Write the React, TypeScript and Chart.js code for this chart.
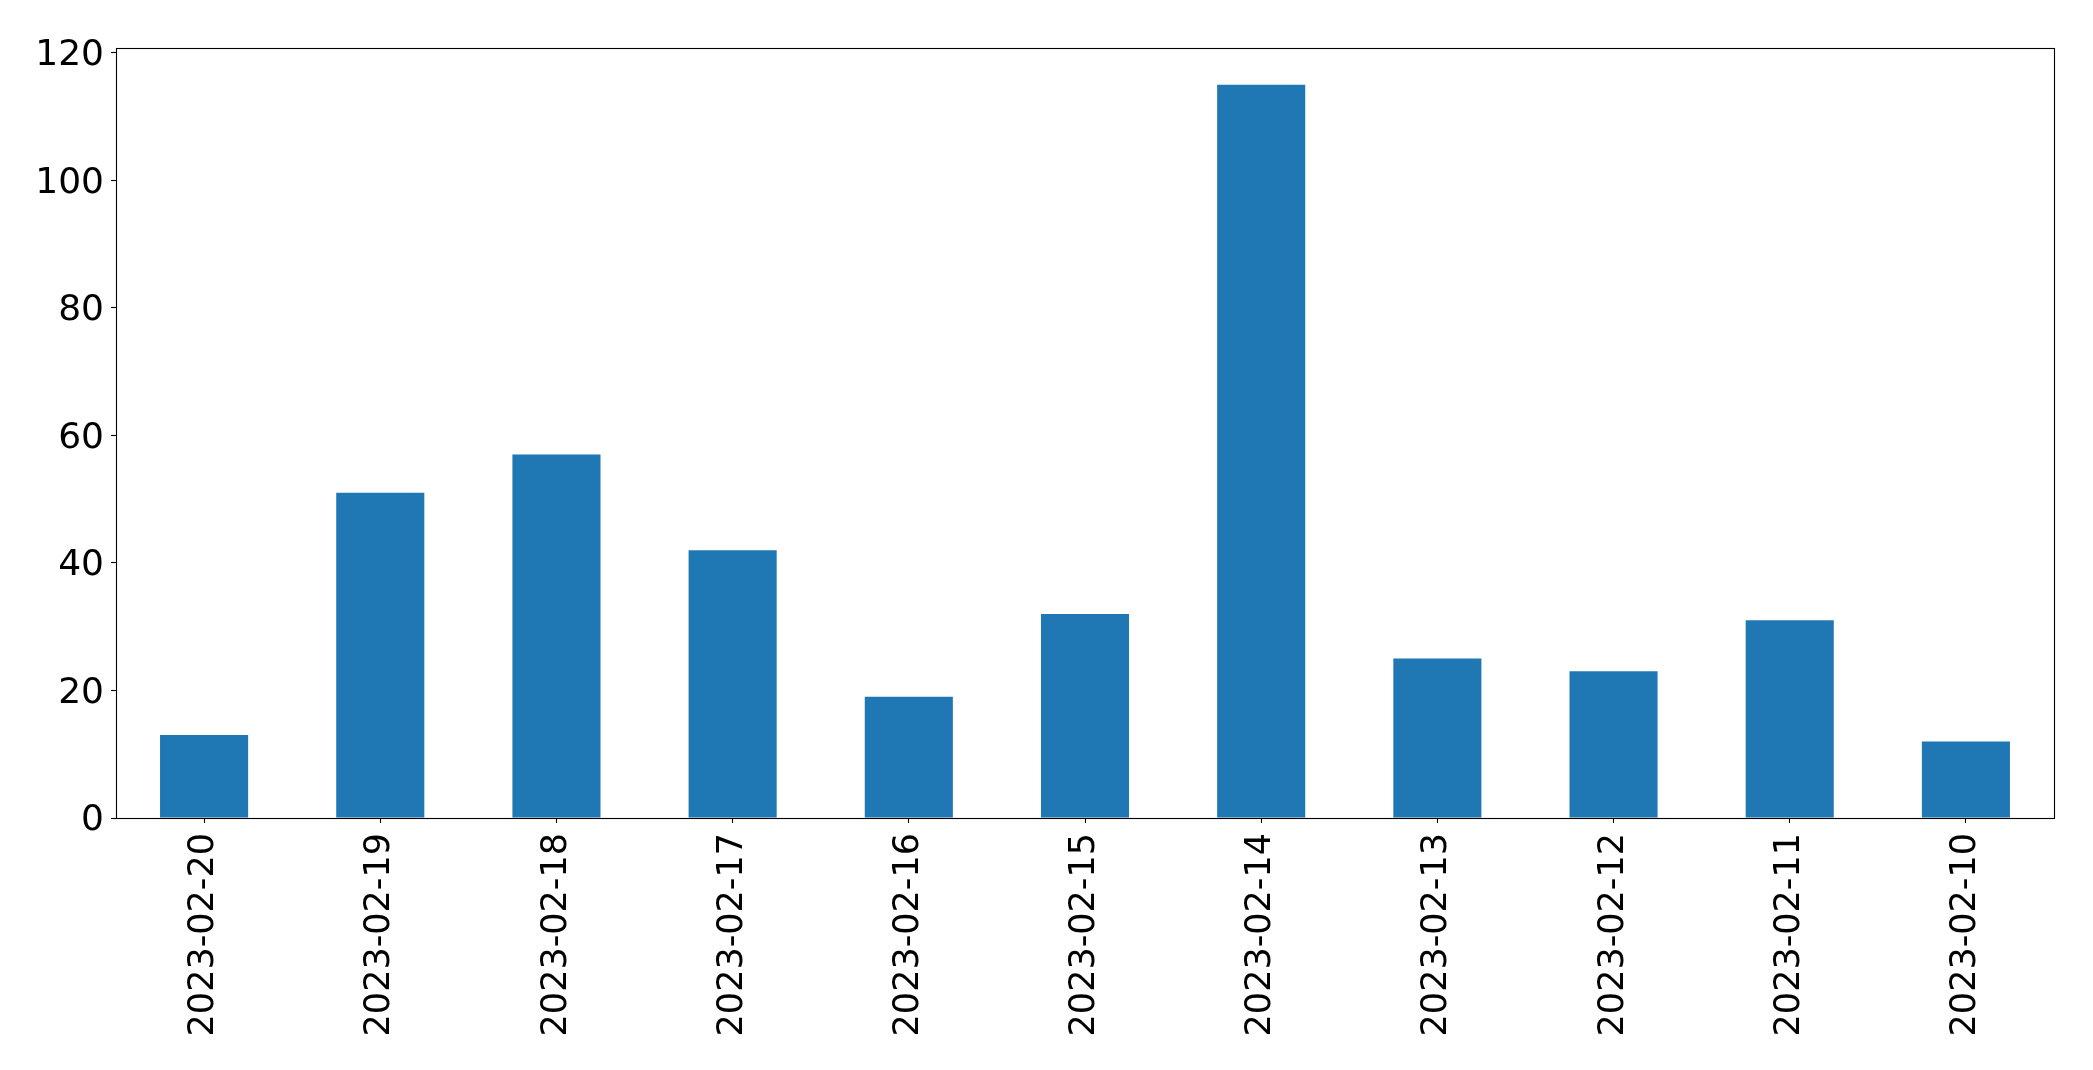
import React, { useEffect, useRef } from "react";
import { Chart, registerables } from "chart.js";

Chart.register(...registerables);

const categories = [
  "2023-02-20",
  "2023-02-19",
  "2023-02-18",
  "2023-02-17",
  "2023-02-16",
  "2023-02-15",
  "2023-02-14",
  "2023-02-13",
  "2023-02-12",
  "2023-02-11",
  "2023-02-10",
];
const values = [13, 51, 57, 42, 19, 32, 115, 25, 23, 31, 12];
const yTicks = [0, 20, 40, 60, 80, 100, 120];
const yMax = 120.75;

const W = 2093;
const H = 1070;

const framePlugin = {
  id: "frame",
  afterDraw(chart: any) {
    const { ctx, chartArea } = chart;
    ctx.save();
    ctx.strokeStyle = "#000";
    ctx.lineWidth = 1.1;
    ctx.strokeRect(
      Math.round(chartArea.left) + 0.5,
      Math.round(chartArea.top) + 0.5,
      Math.round(chartArea.right - chartArea.left),
      Math.round(chartArea.bottom - chartArea.top)
    );
    ctx.restore();
  },
};

export default function App() {
  const ref = useRef<HTMLCanvasElement | null>(null);
  useEffect(() => {
    if (!ref.current) return;
    const font = { family: "'DejaVu Sans', sans-serif", size: 35 };
    const chart = new Chart(ref.current, {
      type: "bar",
      data: {
        labels: categories,
        datasets: [
          {
            data: values,
            backgroundColor: "#1f77b4",
            borderWidth: 0,
            barPercentage: 0.5,
            categoryPercentage: 1,
          },
        ],
      },
      options: {
        animation: false,
        responsive: false,
        devicePixelRatio: 1,
        layout: { padding: { top: 48, right: 39, left: 0, bottom: 0 } },
        plugins: {
          legend: { display: false },
          tooltip: { enabled: false },
        },
        scales: {
          x: {
            type: "category",
            offset: true,
            grid: {
              display: true,
              offset: false,
              drawOnChartArea: false,
              drawTicks: true,
              tickLength: 5,
              tickColor: "#000",
              tickWidth: 1.1,
            },
            border: { display: false },
            ticks: {
              font,
              color: "#000",
              minRotation: 90,
              maxRotation: 90,
              autoSkip: false,
              padding: 10,
            },
            afterFit(scale: any) {
              scale.height = H - 818;
            },
          },
          y: {
            type: "linear",
            min: 0,
            max: yMax,
            grid: {
              display: true,
              drawOnChartArea: false,
              drawTicks: true,
              tickLength: 5,
              tickColor: "#000",
              tickWidth: 1.1,
            },
            border: { display: false },
            ticks: {
              font: { family: "'DejaVu Sans', sans-serif", size: 36 },
              color: "#000",
              padding: 7,
              labelOffset: 3,
            },
            afterBuildTicks(scale: any) {
              scale.ticks = yTicks.map((v) => ({ value: v }));
            },
            afterFit(scale: any) {
              scale.width = 116;
            },
          },
        },
      },
      plugins: [framePlugin],
    });
    return () => chart.destroy();
  }, []);
  return (
    <div style={{ position: "fixed", left: 0, top: 0, width: W, height: H, background: "#fff" }}>
      <canvas ref={ref} width={W} height={H} style={{ display: "block" }} />
    </div>
  );
}
